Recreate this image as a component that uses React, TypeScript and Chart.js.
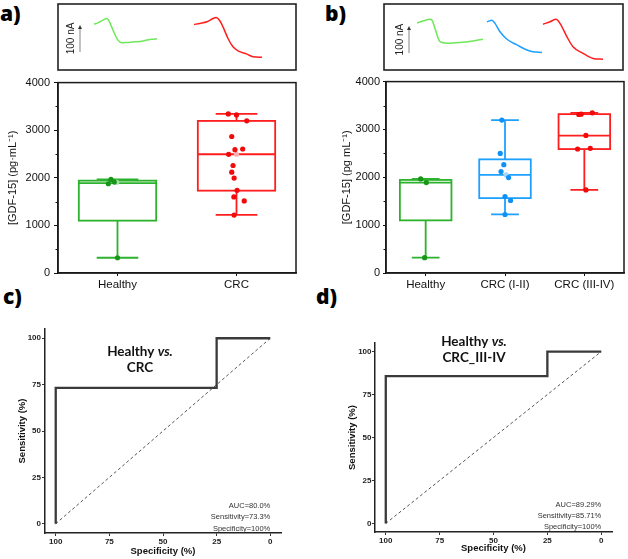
import React, { useEffect, useRef } from 'react';
import { Chart, registerables } from 'chart.js';
Chart.register(...registerables);

const FONT = "'Liberation Sans', Arial, sans-serif";
const TITLE_FONT = "Lato, 'Open Sans', sans-serif";

// ---------- amperometric traces (time, s  /  current, nA) ----------
const traceAHealthyT = [36, 40, 45, 49, 51, 55, 60, 64, 69, 75, 82, 89, 94, 99];
const traceAHealthyI = [170, 175, 185, 191, 182, 148, 111, 101, 102, 104, 106, 111, 114, 116];
const traceACrcT = [136, 142, 149, 155, 158, 162, 165, 170, 175, 180, 189, 195, 204];
const traceACrcI = [169, 173, 179, 191, 195, 182, 160, 117, 86, 71, 59, 49, 47];
const traceBHealthyT = [33, 39, 46, 48, 51, 56, 63, 76, 89, 99];
const traceBHealthyI = [175, 182, 188, 185, 154, 105, 99, 102, 108, 114];
const traceBEarlyT = [103, 108, 111, 116, 123, 133, 143, 149, 158];
const traceBEarlyI = [179, 185, 173, 142, 114, 93, 74, 68, 65];
const traceBLateT = [159, 166, 172, 176, 183, 189, 199, 209, 219];
const traceBLateI = [170, 179, 188, 173, 123, 86, 62, 43, 40];
const scaleBarNA = 100;

// ---------- box plots: [GDF-15] pg/mL ----------
const catsA = ['Healthy', 'CRC'];
const q1A = [1100, 1730];
const medA = [1890, 2495];
const q3A = [1940, 3195];
const loA = [320, 1220];
const hiA = [1965, 3345];
const ptsAHealthy = [1966, 1875, 1910, 320];
const jitAHealthy = [-0.055, -0.077, -0.027, 0];
const ptsACrc = [3342, 3320, 3196, 2868, 2591, 2605, 2494, 2258, 2119, 1994, 1737, 1598, 1515, 1217];
const jitACrc = [-0.069, 0, 0.086, -0.04, -0.013, 0.052, -0.066, -0.029, -0.04, -0.02, 0.005, -0.022, 0.065, -0.02];
const fadedA = [1905, 2495];
const fadedJitA = [-0.007, 0];

const catsB = ['Healthy', 'CRC (I-II)', 'CRC (III-IV)'];
const q1B = [1100, 1565, 2590];
const medB = [1890, 2050, 2870];
const q3B = [1945, 2375, 3320];
const loB = [320, 1225, 1737];
const hiB = [1965, 3196, 3345];
const ptsBHealthy = [1966, 1890, 320];
const jitBHealthy = [-0.063, 0.008, -0.013];
const ptsBEarly = [3196, 2500, 2264, 2119, 1994, 1598, 1515, 1223];
const jitBEarly = [-0.04, -0.06, -0.015, -0.05, 0.045, 0, 0.07, 0];
const ptsBLate = [3348, 3320, 3312, 2875, 2591, 2605, 1737];
const jitBLate = [0.1, -0.04, -0.07, 0.02, -0.085, 0.075, 0.02];
const fadedB = [2050];
const fadedJitB = [0.015];

const boxYTicks = [0, 1000, 2000, 3000, 4000];
const boxYMinor = [500, 1500, 2500, 3500];

// ---------- ROC curves ----------
const rocCSpec = [100, 100, 25, 25, 0];
const rocCSens = [0, 73.3, 73.3, 100, 100];
const rocDSpec = [100, 100, 25, 25, 0];
const rocDSens = [0, 85.71, 85.71, 100, 100];
const diagSpec = [100, 0];
const diagSens = [0, 100];
const rocTicks = [0, 25, 50, 75, 100];
const statsC = ['AUC=80.0%', 'Sensitivity=73.3%', 'Specificity=100%'];
const statsD = ['AUC=89.29%', 'Sensitivity=85.71%', 'Specificity=100%'];

const GREEN = 'rgb(44,178,44)';
const GREEN_PT = 'rgb(24,150,24)';
const RED = 'rgb(255,30,30)';
const RED_PT = 'rgb(240,10,10)';
const BLUE = 'rgb(30,160,255)';
const BLUE_PT = 'rgb(15,145,245)';

const base = { animation: false as const, responsive: false, devicePixelRatio: 1 };

function xy(xs: number[], ys: number[]) {
  return xs.map((x, k) => ({ x, y: ys[k] }));
}

// ---------- trace chart ----------
function traceConfig(traces: { t: number[]; i: number[]; color: string }[], xMax: number, barT: number, barI0: number) {
  const plugin = {
    id: 'traceDeco',
    afterDraw(chart: any) {
      const { ctx, chartArea: a, scales } = chart;
      const x = scales.x, y = scales.y;
      ctx.save();
      ctx.strokeStyle = '#222';
      ctx.lineWidth = 1.6;
      ctx.strokeRect(a.left, a.top, a.right - a.left, a.bottom - a.top);
      const px = x.getPixelForValue(barT);
      const y0 = y.getPixelForValue(barI0);
      const y1 = y.getPixelForValue(barI0 + scaleBarNA);
      ctx.strokeStyle = '#999';
      ctx.lineWidth = 1.2;
      ctx.beginPath();
      ctx.moveTo(px, y0);
      ctx.lineTo(px, y1 + 3);
      ctx.stroke();
      ctx.fillStyle = '#333';
      ctx.beginPath();
      ctx.moveTo(px, y1);
      ctx.lineTo(px - 2, y1 + 4);
      ctx.lineTo(px + 2, y1 + 4);
      ctx.closePath();
      ctx.fill();
      ctx.translate(px - 9, (y0 + y1) / 2);
      ctx.rotate(-Math.PI / 2);
      ctx.fillStyle = '#222';
      ctx.font = `10px ${FONT}`;
      ctx.textAlign = 'center';
      ctx.textBaseline = 'middle';
      ctx.fillText(`${scaleBarNA} nA`, 0, 0);
      ctx.restore();
    },
  };
  return {
    type: 'line',
    data: {
      datasets: traces.map((tr) => ({
        data: xy(tr.t, tr.i),
        borderColor: tr.color,
        borderWidth: 1.5,
        pointRadius: 0,
        cubicInterpolationMode: 'monotone',
      })),
    },
    options: {
      ...base,
      layout: { padding: 2 },
      plugins: { legend: { display: false }, tooltip: { enabled: false } },
      scales: {
        x: { type: 'linear', display: false, min: 0, max: xMax },
        y: { type: 'linear', display: false, min: 0, max: 245 },
      },
    },
    plugins: [plugin],
  };
}

// ---------- box chart ----------
type Group = { vals: number[]; jit: number[]; color: string };
function boxConfig(p: {
  cats: string[]; q1: number[]; med: number[]; q3: number[]; lo: number[]; hi: number[];
  strokes: string[]; groups: Group[]; faded: { x: number; y: number; c: string }[];
  yTitle: string; yWidth: number; xHeight: number; padTop: number; padRight: number;
  titlePad: number; yTickPad: number; yTickLen: number;
}) {
  const BOX_W = 0.65, CAP_W = 0.35;
  const plugin = {
    id: 'boxDraw',
    beforeDatasetsDraw(chart: any) {
      const { ctx, chartArea: a, scales } = chart;
      const x = scales.x, y = scales.y;
      ctx.save();
      ctx.strokeStyle = '#111';
      ctx.lineWidth = 1;
      for (const v of boxYMinor) {
        const py = Math.round(y.getPixelForValue(v)) + 0.5;
        ctx.beginPath();
        ctx.moveTo(a.left - 2.5, py);
        ctx.lineTo(a.left, py);
        ctx.stroke();
      }
      p.cats.forEach((_, i) => {
        const cx = x.getPixelForValue(i);
        const hw = x.getPixelForValue(i + BOX_W / 2) - cx;
        const cw = x.getPixelForValue(i + CAP_W / 2) - cx;
        const yq1 = y.getPixelForValue(p.q1[i]);
        const yq3 = y.getPixelForValue(p.q3[i]);
        const ym = y.getPixelForValue(p.med[i]);
        const ylo = y.getPixelForValue(p.lo[i]);
        const yhi = y.getPixelForValue(p.hi[i]);
        ctx.strokeStyle = p.strokes[i];
        ctx.lineWidth = 1.8;
        ctx.strokeRect(cx - hw, yq3, 2 * hw, yq1 - yq3);
        ctx.beginPath();
        ctx.moveTo(cx - hw, ym); ctx.lineTo(cx + hw, ym);
        ctx.moveTo(cx, yq3); ctx.lineTo(cx, yhi);
        ctx.moveTo(cx, yq1); ctx.lineTo(cx, ylo);
        ctx.moveTo(cx - cw, yhi); ctx.lineTo(cx + cw, yhi);
        ctx.moveTo(cx - cw, ylo); ctx.lineTo(cx + cw, ylo);
        ctx.stroke();
      });
      ctx.restore();
    },
    afterDraw(chart: any) {
      const { ctx, chartArea: a } = chart;
      ctx.save();
      ctx.strokeStyle = '#1a1a1a';
      ctx.lineWidth = 1.5;
      ctx.strokeRect(a.left, a.top, a.right - a.left, a.bottom - a.top);
      ctx.restore();
    },
  };
  const datasets: any[] = p.groups.map((g, i) => ({
    data: g.vals.map((v, k) => ({ x: i + g.jit[k], y: v })),
    backgroundColor: g.color,
    borderWidth: 0,
    pointRadius: 2.6,
  }));
  datasets.push({
    data: p.faded.map((f) => ({ x: f.x, y: f.y })),
    backgroundColor: p.faded.map((f) => f.c),
    borderWidth: 0,
    pointRadius: 2.6,
  });
  return {
    type: 'scatter',
    data: { datasets },
    options: {
      ...base,
      layout: { padding: { top: p.padTop, right: p.padRight, left: 0, bottom: 0 } },
      plugins: { legend: { display: false }, tooltip: { enabled: false } },
      scales: {
        x: {
          type: 'linear', min: -0.5, max: p.cats.length - 0.5,
          afterBuildTicks: (s: any) => { s.ticks = p.cats.map((_, i) => ({ value: i })); },
          afterFit: (s: any) => { s.height = p.xHeight; },
          grid: { drawOnChartArea: false, tickLength: 3, tickColor: '#111', tickWidth: 1 },
          border: { color: '#1a1a1a', width: 1.5 },
          ticks: {
            callback: (_v: any, i: number) => p.cats[i], autoSkip: false, maxRotation: 0,
            font: { family: FONT, size: 11.5 }, color: '#111', padding: 2,
          },
        },
        y: {
          type: 'linear', min: 0, max: 4000,
          afterBuildTicks: (s: any) => { s.ticks = boxYTicks.map((v) => ({ value: v })); },
          afterFit: (s: any) => { s.width = p.yWidth; },
          grid: { drawOnChartArea: false, tickLength: p.yTickLen, tickColor: '#111', tickWidth: 1 },
          border: { color: '#1a1a1a', width: 1.5 },
          ticks: {
            callback: (v: any) => String(v),
            font: { family: FONT, size: 11 }, color: '#111', padding: p.yTickPad, autoSkip: false,
          },
          title: {
            display: true, text: p.yTitle, color: '#111',
            font: { family: FONT, size: 11 }, padding: { top: p.titlePad, bottom: 0 },
          },
        },
      },
    },
    plugins: [plugin],
  };
}

// ---------- ROC chart ----------
function rocConfig(p: {
  spec: number[]; sens: number[]; title: string[][]; stats: string[];
  yWidth: number; xHeight: number; padTop: number; padRight: number;
  yTitlePad: number; xTitlePad: number; yTickPad: number;
  titleDX: number; titleDY: number[]; statsDY: number[];
}) {
  const plugin = {
    id: 'rocText',
    afterDraw(chart: any) {
      const { ctx, chartArea: a, scales } = chart;
      ctx.save();
      ctx.fillStyle = '#111';
      ctx.textBaseline = 'alphabetic';
      p.title.forEach((parts, li) => {
        const fonts = parts.map((_, k) => (k === 1 ? `italic bold 13.5px ${TITLE_FONT}` : `bold 13.5px ${TITLE_FONT}`));
        let total = 0;
        const widths = parts.map((t, k) => { ctx.font = fonts[k]; const w = ctx.measureText(t).width; total += w; return w; });
        let cx = a.left + p.titleDX - total / 2;
        parts.forEach((t, k) => {
          ctx.font = fonts[k];
          ctx.textAlign = 'left';
          ctx.fillText(t, cx, a.top + p.titleDY[li]);
          cx += widths[k];
        });
      });
      ctx.font = `7.5px ${FONT}`;
      ctx.fillStyle = '#333';
      ctx.textAlign = 'right';
      const rx = scales.x.getPixelForValue(0);
      p.stats.forEach((s, k) => ctx.fillText(s, rx, a.bottom + p.statsDY[k]));
      ctx.restore();
    },
  };
  const tickFont = { family: FONT, size: 8, weight: 'bold' as const };
  const titleFont = { family: FONT, size: 9.5, weight: 'bold' as const };
  return {
    type: 'line',
    data: {
      datasets: [
        { data: xy(p.spec, p.sens), borderColor: '#3a3a3a', borderWidth: 2.3, pointRadius: 0, tension: 0 },
        { data: xy(diagSpec, diagSens), borderColor: '#555', borderWidth: 1, borderDash: [3, 2.5], pointRadius: 0 },
      ],
    },
    options: {
      ...base,
      layout: { padding: { top: p.padTop, right: p.padRight, left: 0, bottom: 0 } },
      plugins: { legend: { display: false }, tooltip: { enabled: false } },
      scales: {
        x: {
          type: 'linear', reverse: true, min: -5, max: 105,
          afterBuildTicks: (s: any) => { s.ticks = rocTicks.map((v) => ({ value: v })); },
          afterFit: (s: any) => { s.height = p.xHeight; },
          grid: { drawOnChartArea: false, tickLength: 3, tickColor: '#333', tickWidth: 1 },
          border: { color: '#222', width: 1.5 },
          ticks: { font: tickFont, color: '#222', padding: 1, autoSkip: false, maxRotation: 0 },
          title: { display: true, text: 'Specificity (%)', color: '#111', font: titleFont, padding: { top: 0, bottom: p.xTitlePad } },
        },
        y: {
          type: 'linear', min: -5, max: 105,
          afterBuildTicks: (s: any) => { s.ticks = rocTicks.map((v) => ({ value: v })); },
          afterFit: (s: any) => { s.width = p.yWidth; },
          grid: { drawOnChartArea: false, tickLength: 3, tickColor: '#333', tickWidth: 1 },
          border: { color: '#222', width: 1.5 },
          ticks: { font: tickFont, color: '#222', padding: p.yTickPad, autoSkip: false },
          title: { display: true, text: 'Sensitivity (%)', color: '#111', font: titleFont, padding: { top: p.yTitlePad, bottom: 0 } },
        },
      },
    },
    plugins: [plugin],
  };
}

function ChartBox({ left, top, width, height, make }: { left: number; top: number; width: number; height: number; make: () => any }) {
  const ref = useRef<HTMLCanvasElement | null>(null);
  useEffect(() => {
    const chart = new Chart(ref.current as HTMLCanvasElement, make());
    return () => chart.destroy();
  }, []);
  return (
    <canvas ref={ref} width={width} height={height}
      style={{ position: 'absolute', left, top, width, height, display: 'block' }} />
  );
}

function Label({ text, left, top }: { text: string; left: number; top: number }) {
  return (
    <div style={{
      position: 'absolute', left, top, margin: 0, fontFamily: "'Open Sans', sans-serif",
      fontWeight: 800, fontSize: 21, lineHeight: '21px', color: '#000', whiteSpace: 'nowrap',
    }}>{text}</div>
  );
}

export default function App() {
  return (
    <div style={{ position: 'absolute', left: 0, top: 0, width: 628, height: 559, overflow: 'hidden', background: '#fff' }}>
      <Label text="a)" left={0} top={3} />
      <Label text="b)" left={325} top={3} />
      <Label text="c)" left={3} top={286} />
      <Label text="d)" left={316} top={286} />

      <ChartBox left={56} top={2} width={242} height={70} make={() => traceConfig([
        { t: traceAHealthyT, i: traceAHealthyI, color: 'rgb(110,232,90)' },
        { t: traceACrcT, i: traceACrcI, color: RED },
      ], 238, 22, 67)} />
      <ChartBox left={382} top={2} width={243} height={70} make={() => traceConfig([
        { t: traceBHealthyT, i: traceBHealthyI, color: 'rgb(110,232,90)' },
        { t: traceBEarlyT, i: traceBEarlyI, color: BLUE },
        { t: traceBLateT, i: traceBLateI, color: RED },
      ], 239, 25, 63)} />

      <ChartBox left={0} top={72} width={300} height={228} make={() => boxConfig({
        cats: catsA, q1: q1A, med: medA, q3: q3A, lo: loA, hi: hiA,
        strokes: [GREEN, RED],
        groups: [
          { vals: ptsAHealthy, jit: jitAHealthy, color: GREEN_PT },
          { vals: ptsACrc, jit: jitACrc, color: RED_PT },
        ],
        faded: fadedA.map((v, k) => ({ x: k + fadedJitA[k], y: v, c: k === 0 ? 'rgb(170,225,170)' : 'rgb(250,175,175)' })),
        yTitle: '[GDF-15] (pg·mL⁻¹)', yWidth: 58, xHeight: 27, padTop: 9, padRight: 4,
        titlePad: 6.4, yTickPad: 4, yTickLen: 4,
      })} />
      <ChartBox left={335} top={72} width={293} height={228} make={() => boxConfig({
        cats: catsB, q1: q1B, med: medB, q3: q3B, lo: loB, hi: hiB,
        strokes: [GREEN, BLUE, RED],
        groups: [
          { vals: ptsBHealthy, jit: jitBHealthy, color: GREEN_PT },
          { vals: ptsBEarly, jit: jitBEarly, color: BLUE_PT },
          { vals: ptsBLate, jit: jitBLate, color: RED_PT },
        ],
        faded: fadedB.map((v, k) => ({ x: 1 + fadedJitB[k], y: v, c: 'rgb(165,215,250)' })),
        yTitle: '[GDF-15] (pg mL⁻¹)', yWidth: 51, xHeight: 27, padTop: 9, padRight: 3,
        titlePad: 5.1, yTickPad: 3, yTickLen: 3,
      })} />

      <ChartBox left={0} top={318} width={300} height={241} make={() => rocConfig({
        spec: rocCSpec, sens: rocCSens, title: [['Healthy ', 'vs.'], ['CRC']], stats: statsC,
        yWidth: 45, xHeight: 26, padTop: 11, padRight: 19, yTitlePad: 17.1, xTitlePad: 2.1, yTickPad: 1,
        titleDX: 95, titleDY: [26.5, 43], statsDY: [-25.5, -14, -2.5],
      })} />
      <ChartBox left={330} top={318} width={298} height={241} make={() => rocConfig({
        spec: rocDSpec, sens: rocDSens, title: [['Healthy ', 'vs.'], ['CRC_III-IV']], stats: statsD,
        yWidth: 45, xHeight: 27, padTop: 25, padRight: 16, yTitlePad: 17.1, xTitlePad: 5.1, yTickPad: 0.5,
        titleDX: 99, titleDY: [2.5, 19], statsDY: [-25.3, -14.3, -3.3],
      })} />
    </div>
  );
}
